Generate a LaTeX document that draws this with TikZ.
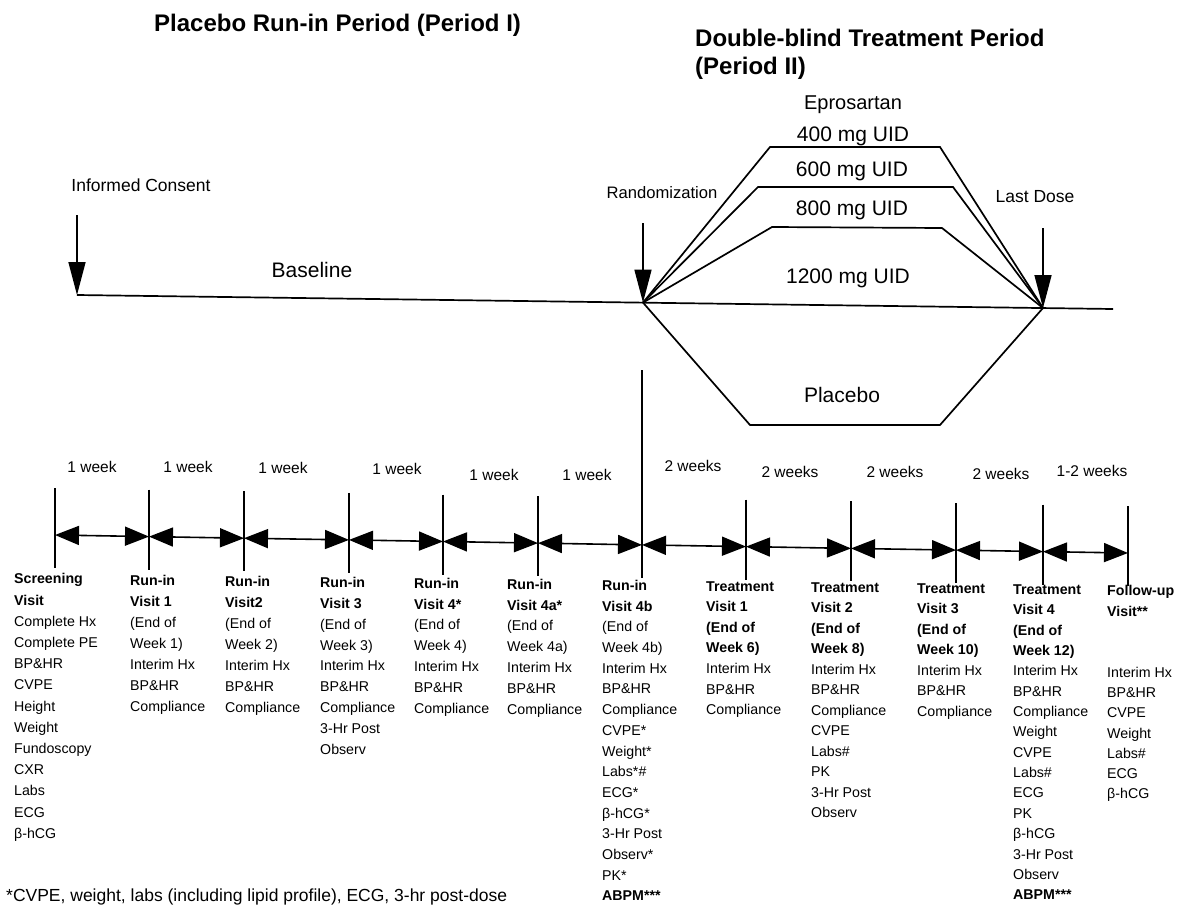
\documentclass[tikz,border=0pt]{standalone}
\usepackage{fontspec}
\setmainfont{Liberation Sans}
\usetikzlibrary{arrows.meta,calc}
\begin{document}
\begin{tikzpicture}[x=1pt,y=-1pt,
  thick line/.style={line width=1.7pt},
  bigarrow/.style={line width=1.6pt,-{Triangle[length=33pt,width=17pt]}},
  spanarrow/.style={line width=1.6pt,{Triangle[length=24pt,width=19pt]}-{Triangle[length=24pt,width=19pt]}},
  tickline/.style={line width=1.5pt},
  titletext/.style={font=\fontsize{24}{28}\selectfont\bfseries, inner sep=0pt, anchor=west},
  dosetext/.style={font=\fontsize{21}{24}\selectfont, inner sep=0pt},
  eventtext/.style={font=\fontsize{17.5}{20}\selectfont, inner sep=0pt},
  weektext/.style={font=\fontsize{15.5}{18}\selectfont, inner sep=0pt},
  visit/.style={font=\fontsize{14.2}{#1}\selectfont, inner sep=0pt, anchor=north west, align=left},
]
\useasboundingbox (0,0) rectangle (1181,918);

% ---------- headings ----------
\node[titletext] (t1) at (154,25) {Placebo Run-in Period (Period I)};
\node[titletext] (t2) at (695,38) {Double-blind Treatment Period};
\node[titletext] (t3) at (695,68) {(Period II)};

% ---------- baseline and treatment arms ----------
\coordinate (bl0)  at (77,295);
\coordinate (rand) at (643,302.6);
\coordinate (last) at (1043,308);
\coordinate (blend) at (1113,309);
\draw[thick line] (bl0) -- (blend);

\coordinate (icTop) at (77,215);
\coordinate (rTop)  at (643,223);
\coordinate (lTop)  at (1043,228);
\draw[bigarrow] (icTop) -- (bl0);
\draw[bigarrow] (rTop) -- (rand);
\draw[bigarrow] (lTop) -- (last);

\node[eventtext] (ic) at (141,185) {Informed Consent};
\node[eventtext,font=\fontsize{16.6}{20}\selectfont] (rz) at (662,193) {Randomization};
\node[eventtext] (ld) at (1035,197) {Last Dose};
\node[dosetext] (bsl) at (312,270) {Baseline};

\coordinate (a4l) at (770,147); \coordinate (a4r) at (940,147);
\coordinate (a6l) at (758,187); \coordinate (a6r) at (953,187);
\coordinate (a8l) at (772,227); \coordinate (a8r) at (942,228);
\coordinate (pl)  at (750,425); \coordinate (pr)  at (940,425);
\draw[thick line] (rand) -- (a4l) -- (a4r) -- (last);
\draw[thick line] (rand) -- (a6l) -- (a6r) -- (last);
\draw[thick line] (rand) -- (a8l) -- (a8r) -- (last);
\draw[thick line] (rand) -- (pl) -- (pr) -- (last);

\node[dosetext,font=\fontsize{20}{24}\selectfont] (epro) at (853,105) {Eprosartan};
\node[dosetext] (d400) at (853,136) {400 mg UID};
\node[dosetext] (d600) at (852,171) {600 mg UID};
\node[dosetext] (d800) at (852,210) {800 mg UID};
\node[dosetext] (d1200) at (848,278) {1200 mg UID};
\node[dosetext] (dpl) at (842,395) {Placebo};

% ---------- visit time line ----------
\coordinate (v1)  at (55,535.0);
\coordinate (v2)  at (149,536.6);
\coordinate (v3)  at (244,538.2);
\coordinate (v4)  at (349,539.9);
\coordinate (v5)  at (443,541.5);
\coordinate (v6)  at (538,543.1);
\coordinate (v7)  at (642,544.9);
\coordinate (v8)  at (746,546.6);
\coordinate (v9)  at (851,548.4);
\coordinate (v10) at (956,550.1);
\coordinate (v11) at (1043,551.6);
\coordinate (v12) at (1128,553.0);

\foreach \v in {v1,v2,v3,v4,v5,v6,v8,v9,v10,v11,v12}
  \draw[tickline] (\v) ++(0,-47) -- ++(0,80);
\coordinate (randLine) at (642,370);
\draw[tickline] (randLine) -- ($(v7)+(0,33)$);

\draw[spanarrow] (v1) -- (v2);
\draw[spanarrow] (v2) -- (v3);
\draw[spanarrow] (v3) -- (v4);
\draw[spanarrow] (v4) -- (v5);
\draw[spanarrow] (v5) -- (v6);
\draw[spanarrow] (v6) -- (v7);
\draw[spanarrow] (v7) -- (v8);
\draw[spanarrow] (v8) -- (v9);
\draw[spanarrow] (v9) -- (v10);
\draw[spanarrow] (v10) -- (v11);
\draw[spanarrow] (v11) -- (v12);

\node[weektext] (w1) at (92,467)  {1 week};
\node[weektext] (w2) at (188,467) {1 week};
\node[weektext] (w3) at (283,468) {1 week};
\node[weektext] (w4) at (397,469) {1 week};
\node[weektext] (w5) at (494,475) {1 week};
\node[weektext] (w6) at (587,475) {1 week};
\node[weektext] (w7) at (693,466) {2 weeks};
\node[weektext] (w8) at (790,472) {2 weeks};
\node[weektext] (w9) at (895,472) {2 weeks};
\node[weektext] (w10) at (1001,474) {2 weeks};
\node[weektext] (w11) at (1092,471) {1-2 weeks};

% ---------- visit schedules ----------
\node[visit=21.2] (c1) at (14,573.5) {\textbf{Screening}\\\textbf{Visit}\\Complete Hx\\Complete PE\\BP\&HR\\CVPE\\Height\\Weight\\Fundoscopy\\CXR\\Labs\\ECG\\β-hCG};
\node[visit=21.1] (c2) at (130,574.8) {\textbf{Run-in}\\\textbf{Visit 1}\\(End of\\Week 1)\\Interim Hx\\BP\&HR\\Compliance};
\node[visit=21.0] (c3) at (225,575.8) {\textbf{Run-in}\\\textbf{Visit2}\\(End of\\Week 2)\\Interim Hx\\BP\&HR\\Compliance};
\node[visit=20.9] (c4) at (320,576.9) {\textbf{Run-in}\\\textbf{Visit 3}\\(End of\\Week 3)\\Interim Hx\\BP\&HR\\Compliance\\3-Hr Post\\Observ};
\node[visit=20.8] (c5) at (414,577.9) {\textbf{Run-in}\\\textbf{Visit 4*}\\(End of\\Week 4)\\Interim Hx\\BP\&HR\\Compliance};
\node[visit=20.8] (c6) at (507,578.9) {\textbf{Run-in}\\\textbf{Visit 4a*}\\(End of\\Week 4a)\\Interim Hx\\BP\&HR\\Compliance};
\node[visit=20.7] (c7) at (602,580.0) {\textbf{Run-in}\\\textbf{Visit 4b}\\(End of\\Week 4b)\\Interim Hx\\BP\&HR\\Compliance\\CVPE*\\Weight*\\Labs*\#\\ECG*\\β-hCG*\\3-Hr Post\\Observ*\\PK*\\\textbf{ABPM***}};
\node[visit=20.6] (c8) at (706,581.1) {\textbf{Treatment}\\\textbf{Visit 1}\\\textbf{(End of}\\\textbf{Week 6)}\\Interim Hx\\BP\&HR\\Compliance};
\node[visit=20.5] (c9) at (811,582.3) {\textbf{Treatment}\\\textbf{Visit 2}\\\textbf{(End of}\\\textbf{Week 8)}\\Interim Hx\\BP\&HR\\Compliance\\CVPE\\Labs\#\\PK\\3-Hr Post\\Observ};
\node[visit=20.5] (c10) at (917,583.4) {\textbf{Treatment}\\\textbf{Visit 3}\\\textbf{(End of}\\\textbf{Week 10)}\\Interim Hx\\BP\&HR\\Compliance};
\node[visit=20.35] (c11) at (1013,584.5) {\textbf{Treatment}\\\textbf{Visit 4}\\\textbf{(End of}\\\textbf{Week 12)}\\Interim Hx\\BP\&HR\\Compliance\\Weight\\CVPE\\Labs\#\\ECG\\PK\\β-hCG\\3-Hr Post\\Observ\\\textbf{ABPM***}};
\node[visit=20.3] (c12) at (1107,585.5) {\textbf{Follow-up}\\\textbf{Visit**}\\~\\~\\Interim Hx\\BP\&HR\\CVPE\\Weight\\Labs\#\\ECG\\β-hCG};

% ---------- footnote ----------
\node[eventtext, anchor=west] (fn) at (6,897) {*CVPE, weight, labs (including lipid profile), ECG, 3-hr post-dose};
\end{tikzpicture}
\end{document}
